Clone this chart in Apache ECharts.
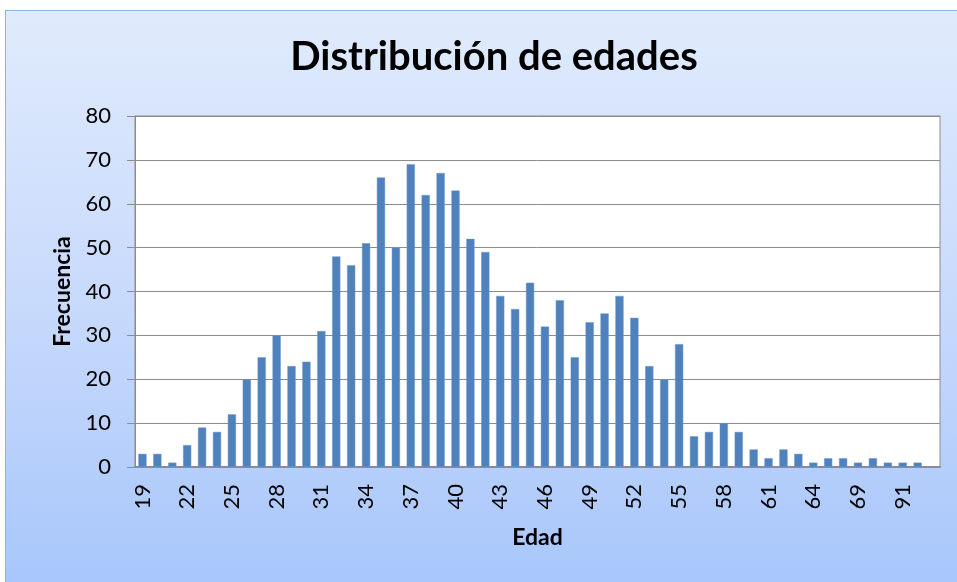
<!DOCTYPE html>
<html>
<head>
<meta charset="utf-8">
<script src="https://cdn.jsdelivr.net/npm/echarts@6/dist/echarts.min.js"></script>
<style>
    html, body { margin: 0; padding: 0; background: #ffffff; }
    #frame {
        position: absolute; left: 5px; top: 10px; width: 960px; height: 580px;
        border-left: 1px solid #8eb4e3; border-top: 1px solid #8eb4e3;
        background: linear-gradient(to bottom, #e0ebfc 0%, #c8dafc 50%, #a7c6fb 100%);
    }
    #chart { position: absolute; left: 0; top: 0; width: 957px; height: 582px; }
</style>
</head>
<body>
<div id="frame"></div>
<div id="chart"></div>
<script>
    // la última categoría queda vacía, como en la hoja original
    var edades = ['19','20','21','22','23','24','25','26','27','28','29','30','31','32','33','34','35','36','37','38',
        '39','40','41','42','43','44','45','46','47','48','49','50','51','52','53','54','55','56','57','58',
        '59','60','61','62','63','64','65','67','69','70','73','91','93',''];
    var frecuencia = [3,3,1,5,9,8,12,20,25,30,23,24,31,48,46,51,66,50,69,62,
        67,63,52,49,39,36,42,32,38,25,33,35,39,34,23,20,28,7,8,10,
        8,4,2,4,3,1,2,2,1,2,1,1,1,null];
    var yTicks = [0, 10, 20, 30, 40, 50, 60, 70, 80];

    var fuente = 'Lato, "Open Sans", sans-serif';
    var chart = echarts.init(document.getElementById('chart'));
    chart.setOption({
        backgroundColor: 'transparent',
        animation: false,
        title: {
            text: 'Distribución de edades',
            left: 489,
            top: 32,
            textAlign: 'center',
            textStyle: { fontFamily: fuente, fontSize: 40, fontWeight: 'bold', color: '#000' }
        },
        grid: {
            left: 135, right: 17, top: 116, bottom: 115,
            show: true, backgroundColor: '#ffffff', borderColor: '#8c8c8c', borderWidth: 1
        },
        xAxis: {
            type: 'category',
            data: edades,
            name: 'Edad',
            nameLocation: 'middle',
            nameGap: 59,
            nameTextStyle: { fontFamily: fuente, fontSize: 23, fontWeight: 'bold', color: '#000' },
            axisLine: { lineStyle: { color: '#8c8c8c', width: 2 } },
            axisTick: { show: false },
            axisLabel: {
                interval: 2, rotate: 90, fontFamily: fuente, fontSize: 22, color: '#000', margin: 17
            }
        },
        yAxis: {
            type: 'value',
            min: yTicks[0],
            max: yTicks[yTicks.length - 1],
            interval: 10,
            name: 'Frecuencia',
            nameLocation: 'middle',
            nameGap: 61,
            nameTextStyle: { fontFamily: fuente, fontSize: 23, fontWeight: 'bold', color: '#000' },
            axisLine: { show: true, lineStyle: { color: '#8c8c8c', width: 1 } },
            axisTick: { show: true, length: 8, inside: false, lineStyle: { color: '#8c8c8c' } },
            splitLine: { lineStyle: { color: '#8c8c8c', width: 1 } },
            axisLabel: { fontFamily: fuente, fontSize: 22, color: '#000', margin: 24 }
        },
        series: [{
            type: 'bar',
            data: frecuencia,
            barWidth: '55%',
            itemStyle: { color: '#4f81bd', borderColor: '#6f96c8', borderWidth: 0.5 }
        }]
    });
</script>
</body>
</html>
